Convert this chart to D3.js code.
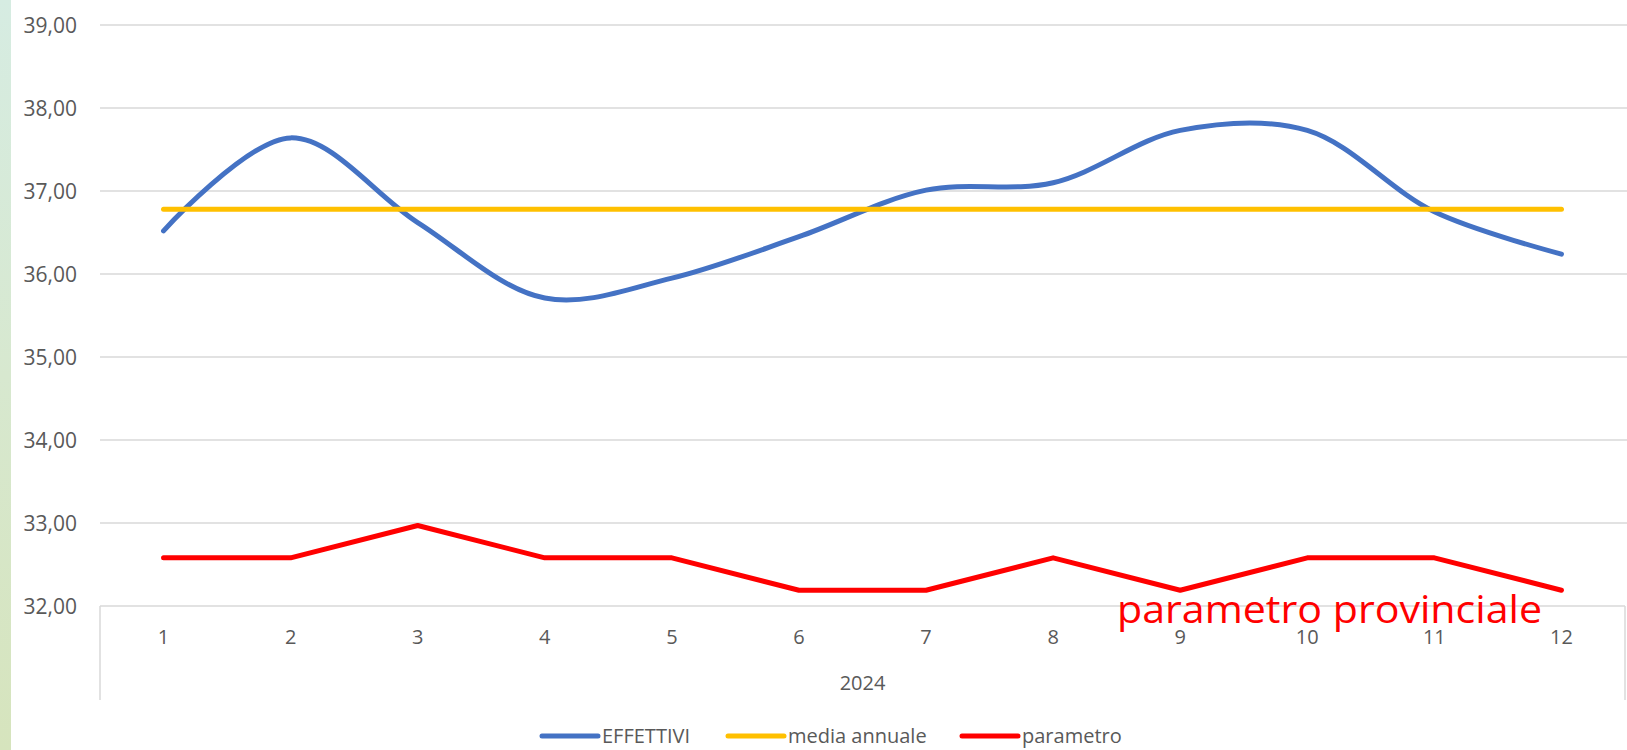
<!DOCTYPE html>
<html>
<head>
<meta charset="utf-8">
<script src="https://cdn.jsdelivr.net/npm/d3@7"></script>
<style>
  html, body { margin: 0; padding: 0; background: #ffffff; }
  svg { display: block; }
</style>
</head>
<body>
<svg id="chart" width="1627" height="750"></svg>
<script>
// ---- data ----
const months = ["1","2","3","4","5","6","7","8","9","10","11","12"];
const categoryGroup = "2024";
const effettivi = [36.52, 37.64, 36.62, 35.71, 35.95, 36.45, 37.01, 37.10, 37.73, 37.73, 36.75, 36.24];
const mediaAnnuale = [36.78, 36.78, 36.78, 36.78, 36.78, 36.78, 36.78, 36.78, 36.78, 36.78, 36.78, 36.78];
const parametro = [32.58, 32.58, 32.97, 32.58, 32.58, 32.19, 32.19, 32.58, 32.19, 32.58, 32.58, 32.19];
const yTicks = [32, 33, 34, 35, 36, 37, 38, 39];
const seriesNames = ["EFFETTIVI", "media annuale", "parametro"];
const seriesColors = ["#4472C4", "#FFC000", "#FF0000"];
const annotation = "parametro provinciale";

// ---- layout ----
const W = 1627, H = 750;
const plotLeft = 100, plotRight = 1625, plotTop = 25, plotBottom = 606;
const svg = d3.select("#chart");
const font = "'Open Sans', 'Liberation Sans', sans-serif";
const textColor = "#595959";
const gridColor = "#D9D9D9";

// background strip on the left
const defs = svg.append("defs");
const grad = defs.append("linearGradient").attr("id", "strip").attr("x1", 0).attr("y1", 0).attr("x2", 0).attr("y2", 1);
grad.append("stop").attr("offset", "0%").attr("stop-color", "#d6ece2");
grad.append("stop").attr("offset", "50%").attr("stop-color", "#d7e8cf");
grad.append("stop").attr("offset", "100%").attr("stop-color", "#d6e4bd");
svg.append("rect").attr("x", 0).attr("y", 0).attr("width", W).attr("height", H).attr("fill", "#ffffff");
svg.append("rect").attr("x", 0).attr("y", 0).attr("width", 11).attr("height", H).attr("fill", "url(#strip)");

// ---- scales ----
const x = d3.scaleBand().domain(months).range([plotLeft, plotRight]).padding(0);
const cx = d => x(d) + x.bandwidth() / 2;
const y = d3.scaleLinear().domain([32, 39]).range([plotBottom, plotTop]);
const locale = d3.formatLocale({ decimal: ",", thousands: ".", grouping: [3], currency: ["", "€"] });
const fmt = locale.format(".2f");

// gridlines
svg.append("g").selectAll("line").data(yTicks.filter(t => t !== 32)).join("line")
  .attr("x1", plotLeft).attr("x2", W)
  .attr("y1", d => y(d)).attr("y2", d => y(d))
  .attr("stroke", gridColor).attr("stroke-width", 1.3);

// y axis labels
const yAxis = d3.axisLeft(y).tickValues(yTicks).tickFormat(fmt).tickSize(0).tickPadding(0);
const gy = svg.append("g").attr("transform", "translate(77,0)").call(yAxis);
gy.select(".domain").remove();
gy.selectAll("text").attr("font-family", font).attr("font-size", 21).attr("fill", textColor).attr("dy", "0.35em");

// category axis (multi-level)
svg.append("line").attr("x1", plotLeft).attr("x2", plotRight).attr("y1", y(32)).attr("y2", y(32))
  .attr("stroke", gridColor).attr("stroke-width", 1.5);
[plotLeft, plotRight].forEach(px => {
  svg.append("line").attr("x1", px).attr("x2", px).attr("y1", y(32)).attr("y2", 700)
    .attr("stroke", gridColor).attr("stroke-width", 1.5);
});
const xAxis = d3.axisBottom(x).tickSize(0).tickPadding(0);
const gx = svg.append("g").attr("transform", `translate(0,${y(32)})`).call(xAxis);
gx.select(".domain").remove();
gx.selectAll("text").attr("font-family", font).attr("font-size", 20).attr("fill", textColor)
  .attr("dy", null).attr("y", 38);
svg.append("text").attr("x", (plotLeft + plotRight) / 2).attr("y", 690)
  .attr("text-anchor", "middle").attr("font-family", font).attr("font-size", 20).attr("fill", textColor)
  .text(categoryGroup);

// ---- series ----
const smooth = d3.line().x((d, i) => cx(months[i])).y(d => y(d)).curve(d3.curveCatmullRom.alpha(0.5));
const straight = d3.line().x((d, i) => cx(months[i])).y(d => y(d));

svg.append("path").datum(parametro).attr("d", straight).attr("fill", "none")
  .attr("stroke", seriesColors[2]).attr("stroke-width", 5).attr("stroke-linejoin", "round").attr("stroke-linecap", "round");
svg.append("path").datum(effettivi).attr("d", smooth).attr("fill", "none")
  .attr("stroke", seriesColors[0]).attr("stroke-width", 5).attr("stroke-linejoin", "round").attr("stroke-linecap", "round");
svg.append("path").datum(mediaAnnuale).attr("d", straight).attr("fill", "none")
  .attr("stroke", seriesColors[1]).attr("stroke-width", 5).attr("stroke-linejoin", "round").attr("stroke-linecap", "round");

// annotation
svg.append("text").attr("x", 1117).attr("y", 623)
  .attr("font-family", font).attr("font-size", 39).attr("fill", "#FF0000")
  .attr("textLength", 425).attr("lengthAdjust", "spacingAndGlyphs")
  .text(annotation);

// ---- legend ----
const legendItems = [
  { name: seriesNames[0], color: seriesColors[0], x: 542 },
  { name: seriesNames[1], color: seriesColors[1], x: 728 },
  { name: seriesNames[2], color: seriesColors[2], x: 962 }
];
const lg = svg.append("g");
legendItems.forEach(it => {
  lg.append("line").attr("x1", it.x).attr("x2", it.x + 56).attr("y1", 736).attr("y2", 736)
    .attr("stroke", it.color).attr("stroke-width", 5).attr("stroke-linecap", "round");
  lg.append("text").attr("x", it.x + 60).attr("y", 736).attr("dy", "0.35em")
    .attr("font-family", font).attr("font-size", 20).attr("fill", textColor).text(it.name);
});
</script>
</body>
</html>
